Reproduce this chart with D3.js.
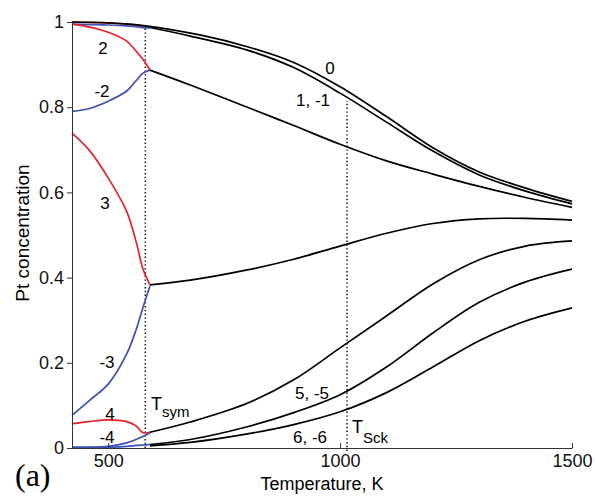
<!DOCTYPE html>
<html lang="en">
<head>
<meta charset="utf-8" />
<title>Pt concentration vs temperature</title>
<script src="https://d3js.org/d3.v7.min.js"></script>
<style>
    body { margin: 0; padding: 0; background: #fff; }
    svg { display: block; font-family: "Liberation Sans", Arial, sans-serif; }
    .axis path, .axis line { stroke: #333; stroke-width: 1; }
    .axis text { font-size: 18px; fill: #111; }
</style>
</head>
<body>
<svg id="chart"></svg>
<script>
    var w = 595;
    var h = 496;

    // below T_sym: ordered (red) and anti (blue) branches
    var tLow = [422, 460, 500, 540, 560, 575, 590];
    var red1  = [1.000, 0.999, 0.998, 0.995, 0.993, 0.990, 0.987];
    var blue1 = [0.995, 0.994, 0.993, 0.991, 0.989, 0.987, 0.986];
    var red2  = [0.995, 0.988, 0.976, 0.955, 0.932, 0.912, 0.888];
    var blue2 = [0.790, 0.797, 0.814, 0.838, 0.862, 0.880, 0.887];
    var red3  = [0.739, 0.698, 0.634, 0.555, 0.485, 0.420, 0.383];
    var blue3 = [0.077, 0.112, 0.150, 0.221, 0.277, 0.330, 0.380];
    var red4  = [0.057, 0.062, 0.066, 0.062, 0.052, 0.036, 0.037];
    var blue4 = [0.002, 0.002, 0.004, 0.012, 0.020, 0.027, 0.036];
    var blue5 = [0.000, 0.001, 0.002, 0.004, 0.006, 0.007, 0.008];

    // above T_sym: merged shells (black)
    var tAll = [422, 500, 580, 700, 800, 900, 1000, 1100, 1200, 1300, 1400, 1500];
    var shell0 = [1.000, 0.998, 0.991, 0.969, 0.942, 0.905, 0.848, 0.778, 0.705, 0.648, 0.610, 0.579];
    var tHigh = [590, 677, 800, 900, 1000, 1100, 1200, 1300, 1400, 1500];
    var shell1 = [0.987, 0.967, 0.934, 0.893, 0.833, 0.765, 0.697, 0.641, 0.603, 0.573];
    var shell2 = [0.887, 0.852, 0.800, 0.757, 0.713, 0.674, 0.643, 0.614, 0.588, 0.565];
    var shell3 = [0.383, 0.394, 0.418, 0.443, 0.474, 0.504, 0.527, 0.538, 0.539, 0.535];
    var shell4 = [0.037, 0.061, 0.105, 0.160, 0.235, 0.310, 0.385, 0.442, 0.474, 0.486];
    var shell5 = [0.008, 0.020, 0.050, 0.083, 0.125, 0.190, 0.270, 0.342, 0.390, 0.420];
    var shell6 = [0.005, 0.013, 0.033, 0.055, 0.085, 0.130, 0.190, 0.252, 0.298, 0.329];

    var xTicks = [500, 1000, 1500];
    var yTicks = [0, 0.2, 0.4, 0.6, 0.8, 1];
    var tSym = 580;
    var tSck = 1015;

    var svg = d3.select("#chart")
                .attr("width", w)
                .attr("height", h);

    var xScale = d3.scaleLinear()
                .domain([422, 1500])
                .range([72, 572]);

    var yScale = d3.scaleLinear()
                .domain([0, 1])
                .range([448, 22]);

    var line = d3.line()
                .x(function(d) { return xScale(d[0]); })
                .y(function(d) { return yScale(d[1]); })
                .curve(d3.curveCatmullRom.alpha(0.5));

    function drawCurve(ts, vals, color) {
        svg.append("path")
            .datum(d3.zip(ts, vals))
            .attr("d", line)
            .attr("fill", "none")
            .attr("stroke", color)
            .attr("stroke-width", 1.7)
            .attr("stroke-linejoin", "round");
    }

    // dotted markers for T_sym and T_Sck
    svg.append("line")
        .attr("x1", xScale(tSym)).attr("x2", xScale(tSym))
        .attr("y1", yScale(0)).attr("y2", yScale(0.99))
        .attr("stroke", "#222").attr("stroke-width", 1.6)
        .attr("stroke-dasharray", "1.4,2.4");
    svg.append("line")
        .attr("x1", xScale(tSck)).attr("x2", xScale(tSck))
        .attr("y1", yScale(0) + 3).attr("y2", yScale(0.815))
        .attr("stroke", "#222").attr("stroke-width", 1.6)
        .attr("stroke-dasharray", "1.4,2.4");

    var red = "#e4222a";
    var blue = "#3a52b4";

    drawCurve(tLow, blue5, blue);
    drawCurve(tLow, red1, red);
    drawCurve(tLow, blue1, blue);
    drawCurve(tLow, red2, red);
    drawCurve(tLow, blue2, blue);
    drawCurve(tLow, red3, red);
    drawCurve(tLow, blue3, blue);
    drawCurve(tLow, red4, red);
    drawCurve(tLow, blue4, blue);

    drawCurve(tAll, shell0, "#000");
    [shell1, shell2, shell3, shell4, shell5, shell6].forEach(function(s) {
        drawCurve(tHigh, s, "#000");
    });

    // axes
    svg.append("g")
        .attr("class", "axis")
        .attr("transform", "translate(72,0)")
        .call(d3.axisLeft(yScale).tickValues(yTicks)
              .tickFormat(d3.format("~g")).tickSize(5).tickSizeOuter(0).tickPadding(3));

    svg.append("g")
        .attr("class", "axis")
        .attr("transform", "translate(0,448)")
        .call(d3.axisBottom(xScale).tickValues(xTicks).tickFormat(d3.format("d"))
              .tickSize(-5).tickSizeOuter(0).tickPadding(6));

    // curve labels
    var labels = [
        ["2", 103, 54], ["-2", 102, 97], ["3", 105, 209], ["-3", 107, 368],
        ["4", 110, 420], ["-4", 107, 443], ["0", 330, 74], ["1, -1", 313, 106],
        ["5, -5", 312, 399], ["6, -6", 310, 443]
    ];
    svg.selectAll(".lbl")
        .data(labels)
        .enter().append("text")
        .attr("class", "lbl")
        .attr("x", function(d) { return d[1]; })
        .attr("y", function(d) { return d[2]; })
        .attr("text-anchor", "middle")
        .attr("font-size", "17px")
        .text(function(d) { return d[0]; });

    var sym = svg.append("text").attr("x", 151).attr("y", 410).attr("font-size", "18px");
    sym.append("tspan").text("T");
    sym.append("tspan").attr("dy", 7).attr("font-size", "15px").text("sym");

    var sck = svg.append("text").attr("x", 352).attr("y", 433).attr("font-size", "18px");
    sck.append("tspan").text("T");
    sck.append("tspan").attr("dy", 10).attr("font-size", "15px").text("Sck");

    // axis titles
    svg.append("text")
        .attr("x", 322).attr("y", 490)
        .attr("text-anchor", "middle")
        .attr("font-size", "18px")
        .text("Temperature, K");

    svg.append("text")
        .attr("transform", "translate(29,233) rotate(-90)")
        .attr("text-anchor", "middle")
        .attr("font-size", "19px")
        .text("Pt concentration");

    svg.append("text")
        .attr("x", 15).attr("y", 486)
        .attr("font-family", "'Liberation Serif', 'Times New Roman', serif")
        .attr("font-size", "32px")
        .text("(a)");
</script>
</body>
</html>
